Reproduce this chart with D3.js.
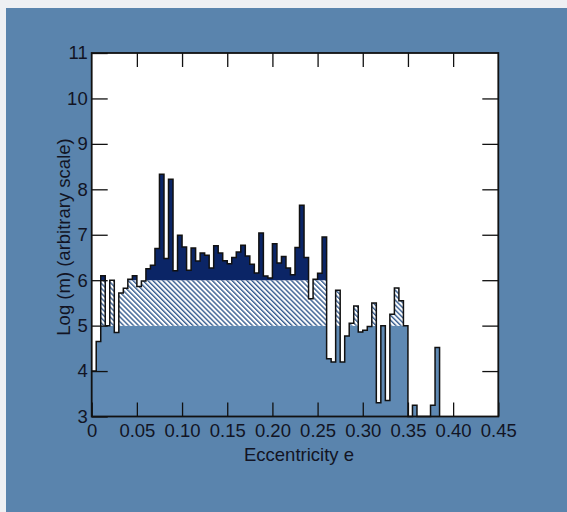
<!DOCTYPE html>
<html>
<head>
<meta charset="utf-8">
<script src="https://cdn.jsdelivr.net/npm/d3@7"></script>
<style>
  body { margin: 0; background: #5a84ad; }
  svg { display: block; }
  text { font-family: "Liberation Sans", Arial, sans-serif; fill: #121424; }
</style>
</head>
<body>
<div id="chart"></div>
<script>
// log(m) per eccentricity bin, bins 0.005 wide starting at e = 0
const binWidth = 0.005;
const logM = [4.0, 4.65, 6.1, 5.0, 6.0, 4.85, 5.72, 5.82, 6.02, 6.1,
    5.86, 5.98, 6.25, 6.33, 6.7, 8.33, 6.48, 8.22, 6.21, 6.99,
    6.73, 6.22, 6.71, 6.42, 6.6, 6.55, 6.27, 6.76, 6.6, 6.43,
    6.36, 6.5, 6.62, 6.77, 6.53, 6.35, 6.16, 7.04, 6.09, 6.05,
    6.8, 6.38, 6.52, 6.27, 6.12, 6.72, 7.65, 6.5, 5.59, 6.02,
    6.15, 6.95, 4.27, 4.2, 5.78, 4.2, 4.77, 5.05, 5.43, 4.86,
    4.9, 4.98, 5.5, 3.3, 5.0, 3.35, 5.25, 5.83, 5.55, 5.0,
    3.0, 3.25, 3.0, 3.0, 3.0, 3.25, 4.52];

// bands: solid below 5, hatched 5-6, dark above 6
const bands = [
    { lo: 3, hi: 5, fill: "#5f89b3" },
    { lo: 5, hi: 6, fill: "url(#hatch)" },
    { lo: 6, hi: 11, fill: "#0b2566" }
];

const xTicks = [0, 0.05, 0.10, 0.15, 0.20, 0.25, 0.30, 0.35, 0.40, 0.45];
const xTickLabels = ["0", "0.05", "0.10", "0.15", "0.20", "0.25", "0.30", "0.35", "0.40", "0.45"];
const yTicks = [3, 4, 5, 6, 7, 8, 9, 10, 11];

const W = 567, H = 512;

const svg = d3.select("#chart")
    .append("svg")
    .attr("width", W)
    .attr("height", H)

// background with scan edge
svg.append("rect").attr("width", W).attr("height", H).attr("fill", "#5a84ad")
svg.append("rect").attr("width", W).attr("height", 8).attr("fill", "#eef0f3")
svg.append("rect").attr("width", 6).attr("height", H).attr("fill", "#eef0f3")

const x = d3.scaleLinear().domain([0, 0.45]).range([91.7, 498.3]);
const y = d3.scaleLinear().domain([3, 11]).range([416.5, 53]);

// hatch pattern
const defs = svg.append("defs");
defs.append("pattern")
    .attr("id", "hatch")
    .attr("patternUnits", "userSpaceOnUse")
    .attr("width", 3.5)
    .attr("height", 6)
    .attr("patternTransform", "rotate(-45)")
    .call(p => {
        p.append("rect").attr("width", 3.5).attr("height", 6).attr("fill", "white")
        p.append("line")
            .attr("x1", 0.7).attr("y1", 0).attr("x2", 0.7).attr("y2", 6)
            .attr("stroke", "#345a8e")
            .attr("stroke-width", 1.4)
    })

// plot area
svg.append("rect")
    .attr("x", x(0))
    .attr("y", y(11))
    .attr("width", x(0.45) - x(0))
    .attr("height", y(3) - y(11))
    .attr("fill", "white")

// step points (last bin closed with its right edge)
const pts = logM.map((v, i) => ({ e: i * binWidth, v: v }));
pts.push({ e: logM.length * binWidth, v: logM[logM.length - 1] });

const g = svg.append("g");

bands.forEach(b => {
    const area = d3.area()
        .curve(d3.curveStepAfter)
        .x(d => x(d.e))
        .y0(y(b.lo))
        .y1(d => y(Math.max(b.lo, Math.min(d.v, b.hi))));
    g.append("path")
        .attr("d", area(pts))
        .attr("fill", b.fill)
});

// step outline
const line = d3.line()
    .curve(d3.curveStepAfter)
    .x(d => x(d.e))
    .y(d => y(d.v));
const outline = pts.concat([{ e: logM.length * binWidth, v: 3 }]);
g.append("path")
    .attr("d", line(outline))
    .attr("fill", "none")
    .attr("stroke", "#111")
    .attr("stroke-width", 1.5)

// axes, ticks pointing inwards
const fontSize = "18.5px";

const xAxis = svg.append("g")
    .attr("transform", `translate(0,${y(3)})`)
    .call(d3.axisBottom(x).tickValues(xTicks).tickSize(-14).tickPadding(7)
        .tickFormat((d, i) => xTickLabels[i]))
xAxis.selectAll("text").style("font-size", fontSize)

svg.append("g")
    .attr("transform", `translate(0,${y(11)})`)
    .call(d3.axisTop(x).tickValues(xTicks.slice(1, -1)).tickSize(-14).tickFormat(""))

const yAxis = svg.append("g")
    .attr("transform", `translate(${x(0)},0)`)
    .call(d3.axisLeft(y).tickValues(yTicks).tickSize(-16).tickPadding(4))
yAxis.selectAll("text").style("font-size", fontSize)

svg.append("g")
    .attr("transform", `translate(${x(0.45)},0)`)
    .call(d3.axisRight(y).tickValues(yTicks.slice(1, -1)).tickSize(-16).tickFormat(""))

svg.selectAll(".domain").remove()
svg.selectAll(".tick line").attr("stroke", "#111").attr("stroke-width", 1.3)
svg.selectAll(".tick text").attr("fill", "#121424")

// frame
svg.append("rect")
    .attr("x", x(0))
    .attr("y", y(11))
    .attr("width", x(0.45) - x(0))
    .attr("height", y(3) - y(11))
    .attr("fill", "none")
    .attr("stroke", "#111")
    .attr("stroke-width", 1.8)

// axis titles
svg.append("text")
    .attr("x", 299)
    .attr("y", 461)
    .attr("text-anchor", "middle")
    .style("font-size", fontSize)
    .text("Eccentricity e")

svg.append("text")
    .attr("transform", "translate(70,237) rotate(-90)")
    .attr("text-anchor", "middle")
    .style("font-size", fontSize)
    .text("Log (m) (arbitrary scale)")
</script>
</body>
</html>
